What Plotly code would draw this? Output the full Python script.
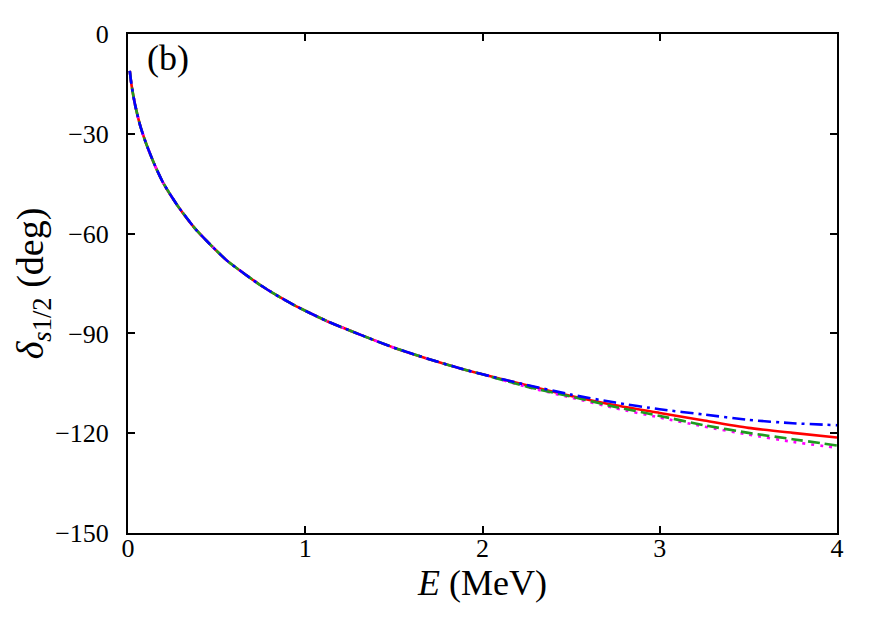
import plotly.graph_objects as go

# Energy grid (MeV)
energy = [0.01, 0.02, 0.04, 0.07, 0.1, 0.15, 0.2, 0.28, 0.38, 0.47, 0.56, 0.66,
          0.75, 0.85, 0.94, 1.0, 1.13, 1.32, 1.5, 1.69, 1.88, 2.0, 2.25,
          2.5, 2.75, 3.0, 3.25, 3.5, 3.75, 4.0]

# phase shifts (deg); the four calculations coincide below ~2 MeV
common = [-11.1, -15.4, -21.3, -27.8, -32.6, -39.3, -44.9, -51.6, -58.6, -63.6,
          -68.2, -72.2, -75.6, -78.9, -81.6, -83.2, -86.5, -90.6, -94.3, -97.6,
          -100.6, -102.3]
red_tail = [-105.6, -108.8, -111.6, -113.9, -116.2, -118.4, -119.9, -121.3]
blue_tail = [-105.5, -108.4, -110.8, -112.8, -114.4, -116.0, -117.0, -117.6]
green_tail = [-106.0, -109.0, -112.1, -114.8, -117.6, -119.9, -121.8, -123.7]
magenta_tail = [-106.1, -109.3, -112.5, -115.3, -118.0, -120.4, -122.6, -124.4]

delta_red = common + red_tail
delta_blue = common + blue_tail
delta_green = common + green_tail
delta_magenta = common + magenta_tail

x_ticks = [0, 1, 2, 3, 4]
y_ticks = [0, -30, -60, -90, -120, -150]

fig = go.Figure()
series = [
    (delta_red, "#ff0000", "solid"),
    (delta_magenta, "#ff00ff", "3px,6px"),
    (delta_green, "#1f9a1f", "12px,5px"),
    (delta_blue, "#0000ff", "13px,5px,3px,5px"),
]
for vals, col, dash in series:
    fig.add_trace(go.Scatter(x=energy, y=vals, mode="lines",
                             line=dict(color=col, width=2.6, dash=dash, shape="spline", smoothing=0.6),
                             showlegend=False, hoverinfo="skip"))

font_family = "Liberation Serif"
fig.add_annotation(x=0.225, y=-7.3, text="(b)", showarrow=False,
                   font=dict(family=font_family, size=36, color="black"))

axis_common = dict(showline=True, linecolor="black", linewidth=2, mirror="ticks",
                   ticks="inside", ticklen=7, tickwidth=1.5, tickcolor="black",
                   showgrid=False, zeroline=False,
                   tickfont=dict(family=font_family, size=26, color="black"))
fig.update_xaxes(range=[0, 4], tickvals=x_ticks, ticklabelstandoff=-9,
                 title=dict(text="<i>E</i> (MeV)", font=dict(family=font_family, size=36, color="black"),
                            standoff=0),
                 **axis_common)
fig.update_yaxes(range=[-150, 0], tickvals=y_ticks, ticklabelstandoff=12,
                 title=dict(text="<i>δ</i><sub><i>s</i>1/2</sub> (deg)",
                            font=dict(family=font_family, size=38, color="black"), standoff=0),
                 **axis_common)
fig.update_layout(width=864, height=610, plot_bgcolor="white", paper_bgcolor="white",
                  margin=dict(l=120, r=35, t=21, b=85))
fig.write_html("out.html")
